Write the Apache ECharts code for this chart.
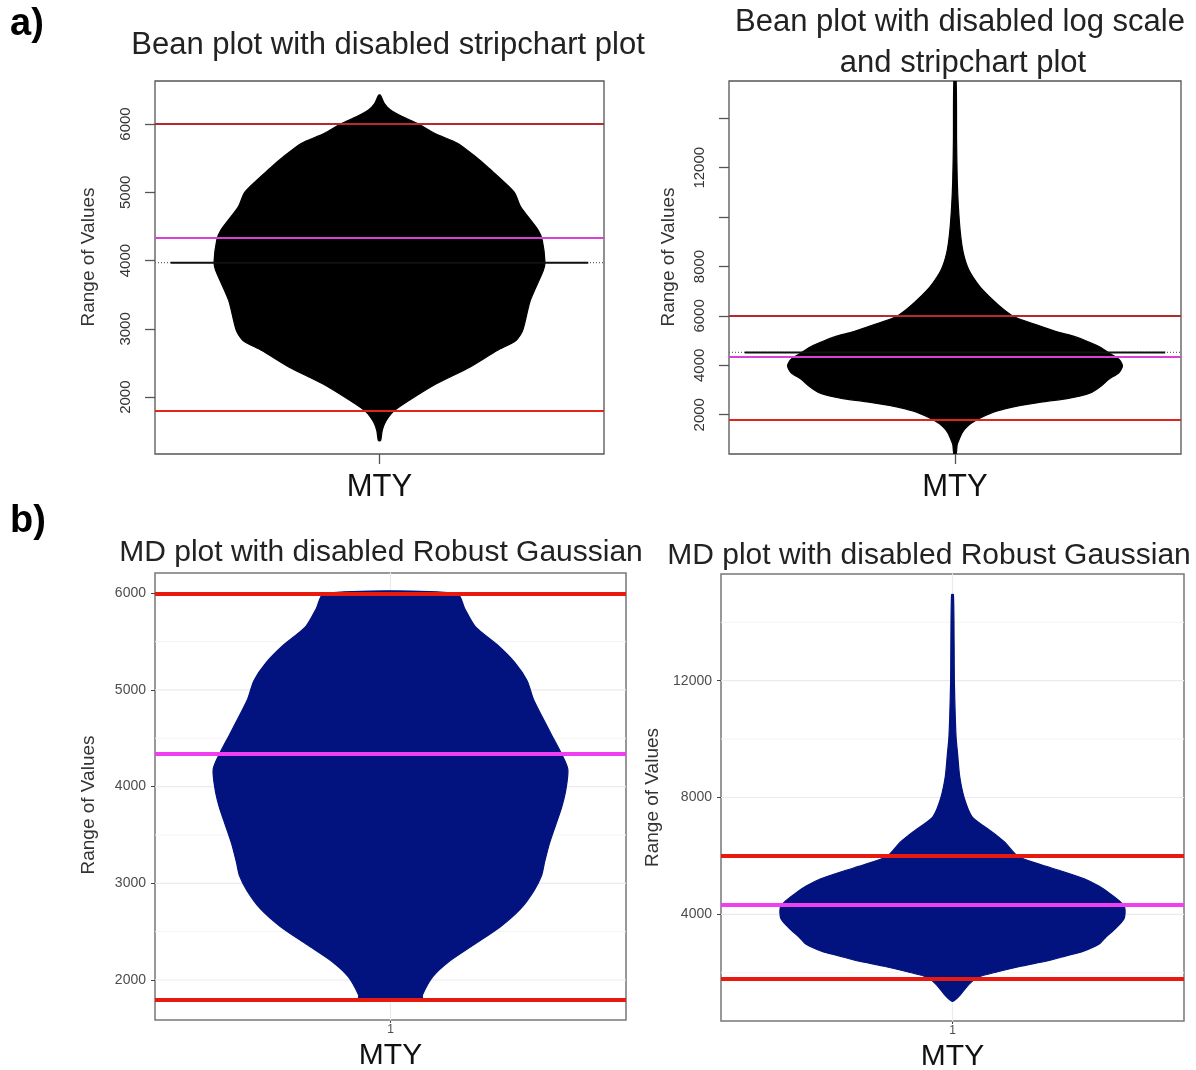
<!DOCTYPE html>
<html>
<head>
<meta charset="utf-8">
<script src="https://cdn.jsdelivr.net/npm/echarts@6/dist/echarts.min.js"></script>
<style>
html,body{margin:0;padding:0;background:#fff;}
#chart{width:1196px;height:1070px;}
</style>
</head>
<body>
<div id="chart"></div>
<script>
// ---------- data ----------
const xCategory = ['MTY'];
const xCategoryMD = ['1'];

// Panel a-left: bean plot (value, relative half width)
const aVals  = [6425,6303,6205,6108,6000,5863,5716,5520,5374,5007,4787,4445,4300,3980,3858,3418,2978,2831,2684,2440,2196,1951,1804,1707,1609,1511,1364];
const aWidth = [0.004,0.021,0.049,0.101,0.173,0.245,0.349,0.428,0.48,0.599,0.629,0.707,0.725,0.737,0.730,0.672,0.638,0.608,0.524,0.402,0.253,0.131,0.066,0.04,0.022,0.012,0.005];

// Panel a-right: bean plot without log scale
const bVals  = [15510,13100,11490,10418,9346,8540,7871,7200,6665,6300,5968,5660,5324,5190,4922,4720,4520,4250,3984,3700,3448,3150,2912,2750,2643,2509,2375,2240,2107,1839,1640,1437,1240,1035,800,410];
const bWidth = [0.005,0.007,0.01,0.015,0.024,0.037,0.061,0.109,0.165,0.21,0.261,0.354,0.463,0.52,0.598,0.645,0.678,0.725,0.741,0.725,0.682,0.645,0.606,0.55,0.49,0.38,0.29,0.22,0.17,0.105,0.07,0.045,0.03,0.02,0.01,0.005];

// Panel b-left: MD plot (trimmed)
const cVals  = [6000,5843,5656,5470,5283,5096,4910,4723,4535,4350,4180,3975,3788,3600,3413,3226,3077,2927,2740,2553,2366,2179,2030,1843,1800];
const cWidth = [0.282,0.315,0.36,0.452,0.528,0.58,0.606,0.644,0.684,0.724,0.753,0.745,0.727,0.701,0.675,0.655,0.641,0.61,0.554,0.468,0.355,0.242,0.178,0.135,0.135];

// Panel b-right: MD plot
const dVals  = [14947,13254,12000,10746,10000,9500,8727,7975,7348,6972,6721,6470,6000,5718,5467,5216,4966,4715,4464,4226,3850,3473,3222,2972,2721,2596,2408,2220,2032,1843,1592,1216,1028];
const dWidth = [0.004,0.007,0.008,0.012,0.016,0.022,0.031,0.051,0.084,0.144,0.187,0.226,0.281,0.374,0.476,0.569,0.632,0.679,0.72,0.744,0.741,0.699,0.663,0.632,0.56,0.499,0.413,0.296,0.195,0.109,0.07,0.031,0.005];

// reference lines
const refHigh = 6000;
const refLow = 1800;
const refMid = 4340;
const beanLineA = 3970;
const beanLineB = 4520;
const beanLineHalf = 0.93;

// tick values
const aTicks = [2000,3000,4000,5000,6000];
const bTicks = [2000,4000,6000,8000,10000,12000,14000];
const bLabels = [2000,4000,6000,8000,12000];
const cMajor = [2000,3000,4000,5000,6000];
const cMinor = [2500,3500,4500,5500];
const dMajor = [4000,8000,12000];
const dMinor = [2000,6000,10000,14000];

// ---------- chart ----------
const FONT = 'Liberation Sans, Arial, sans-serif';
const chart = echarts.init(document.getElementById('chart'), null, {renderer:'canvas'});

function mkGrid(l, t, w, h, col, bw){
  return {left:l, top:t, width:w, height:h, show:true, borderColor:col, borderWidth:bw,
          backgroundColor:'#fff', containLabel:false, outerBoundsMode:'none'};
}
const grids = [
  mkGrid(155, 81, 449, 373, '#555', 1.3),
  mkGrid(729, 81, 452, 373, '#555', 1.3),
  mkGrid(155, 573, 471, 447, '#777', 1.5),
  mkGrid(721, 574, 463, 447, '#777', 1.5)
];

const plainNum = function(v){ return String(v); };

function beanX(i){
  return {
    type:'value', gridIndex:i, min:-1, max:1,
    axisLine:{show:false, onZero:false}, splitLine:{show:false},
    axisTick:{show:true, customValues:[0], length:10, lineStyle:{color:'#555', width:1.3}},
    axisLabel:{customValues:[0], formatter:function(){return xCategory[0];}, fontSize:31, color:'#111', margin:18, fontFamily:FONT}
  };
}
function mdX(i){
  return {
    type:'value', gridIndex:i, min:-1, max:1,
    axisLine:{show:false, onZero:false}, splitLine:{show:false},
    axisTick:{show:true, customValues:[0], length:3, lineStyle:{color:'#444', width:1}},
    axisLabel:{customValues:[0], formatter:function(){return xCategoryMD[0];}, fontSize:12, color:'#4d4d4d', margin:4, fontFamily:FONT},
    name:xCategory[0], nameLocation:'middle', nameGap:21,
    nameTextStyle:{fontSize:30, color:'#111', fontFamily:FONT}
  };
}
function beanY(i, min, max, ticks, labels, gap){
  return {
    type:'value', gridIndex:i, min:min, max:max,
    axisLine:{show:false, onZero:false}, splitLine:{show:false},
    axisTick:{show:true, customValues:ticks, length:10, lineStyle:{color:'#555', width:1.3}},
    axisLabel:{customValues:labels, formatter:plainNum, rotate:90, fontSize:15, color:'#333', margin:22, fontFamily:FONT},
    name:'Range of Values', nameLocation:'middle', nameGap:gap,
    nameTextStyle:{fontSize:19, color:'#333', fontFamily:FONT, padding:[0,0,0,21]}
  };
}
function mdY(i, min, max, ticks, gap, pad){
  return {
    type:'value', gridIndex:i, min:min, max:max,
    axisLine:{show:false, onZero:false}, splitLine:{show:false},
    axisTick:{show:true, customValues:ticks, length:4, lineStyle:{color:'#444', width:1}},
    axisLabel:{customValues:ticks, formatter:plainNum, fontSize:14, color:'#4d4d4d', margin:9, fontFamily:FONT},
    name:'Range of Values', nameLocation:'middle', nameGap:gap,
    nameTextStyle:{fontSize:19, color:'#333', fontFamily:FONT, padding:pad}
  };
}

function shapeSeries(i, vals, widths, color){
  const data = vals.map(function(v, k){ return [widths[k], v]; });
  return {
    type:'custom', xAxisIndex:i, yAxisIndex:i, clip:true, z:3, silent:true,
    data:data,
    renderItem:function(params, api){
      if (params.dataIndex !== 0) return null;
      const pts = [];
      for (let k = 0; k < data.length; k++) pts.push(api.coord([-data[k][0], data[k][1]]));
      for (let k = data.length - 1; k >= 0; k--) pts.push(api.coord([data[k][0], data[k][1]]));
      return {type:'polygon', shape:{points:pts, smooth:0.25}, style:{fill:color, stroke:color, lineWidth:1.2}};
    }
  };
}

function refSeries(i, lines, width){
  return {
    type:'line', xAxisIndex:i, yAxisIndex:i, data:[], z:5, silent:true,
    markLine:{
      silent:true, symbol:'none', label:{show:false},
      data:lines.map(function(l){ return {yAxis:l.v, lineStyle:{color:l.c, width:width, type:'solid'}}; })
    }
  };
}

function gridLines(i, major, minor){
  const out = [];
  out.push({type:'line', xAxisIndex:i, yAxisIndex:i, z:1, silent:true, symbol:'none',
            data:[[0, -1e6],[0, 1e6]], clip:true, lineStyle:{color:'#ebebeb', width:1.2}});
  major.forEach(function(v){
    out.push({type:'line', xAxisIndex:i, yAxisIndex:i, z:1, silent:true, symbol:'none',
              data:[[-1, v],[1, v]], lineStyle:{color:'#ebebeb', width:1.2}});
  });
  minor.forEach(function(v){
    out.push({type:'line', xAxisIndex:i, yAxisIndex:i, z:1, silent:true, symbol:'none',
              data:[[-1, v],[1, v]], lineStyle:{color:'#f4f4f4', width:1}});
  });
  return out;
}

function beanLine(i, v){
  return [
    {type:'line', xAxisIndex:i, yAxisIndex:i, z:2, silent:true, symbol:'none',
     data:[[-1, v],[1, v]], lineStyle:{color:'#666', width:1.3, type:[1,2]}},
    {type:'line', xAxisIndex:i, yAxisIndex:i, z:4, silent:true, symbol:'none',
     data:[[-beanLineHalf, v],[beanLineHalf, v]], lineStyle:{color:'#111', width:2}}
  ];
}

const darkRed = '#b52a2a';
const red = '#e3241b';
const magentaA = '#d840d8';
const redMD = '#e8190f';
const magentaMD = '#f03ff0';
const navy = '#02137f';

const option = {
  backgroundColor:'#ffffff',
  animation:false,
  grid:grids,
  xAxis:[beanX(0), beanX(1), mdX(2), mdX(3)],
  yAxis:[
    beanY(0, 1168, 6630, aTicks, aTicks, 57),
    beanY(1, 410, 15510, bTicks, bLabels, 51),
    mdY(2, 1586, 6210, cMajor, 57, [0,17,0,0]),
    mdY(3, 346, 15654, dMajor, 59, [0,0,0,0])
  ],
  series:[
    ...beanLine(0, beanLineA),
    shapeSeries(0, aVals, aWidth, '#000000'),
    refSeries(0, [{v:refHigh, c:darkRed},{v:refLow, c:red},{v:refMid, c:magentaA}], 2),

    ...beanLine(1, beanLineB),
    shapeSeries(1, bVals, bWidth, '#000000'),
    refSeries(1, [{v:refHigh, c:darkRed},{v:refLow, c:red},{v:refMid, c:magentaA}], 2),

    ...gridLines(2, cMajor, cMinor),
    shapeSeries(2, cVals, cWidth, navy),
    refSeries(2, [{v:refHigh, c:redMD},{v:refLow, c:redMD},{v:refMid, c:magentaMD}], 4),

    ...gridLines(3, dMajor, dMinor),
    shapeSeries(3, dVals, dWidth, navy),
    refSeries(3, [{v:refHigh, c:redMD},{v:refLow, c:redMD},{v:refMid, c:magentaMD}], 4)
  ],
  graphic:[
    {type:'text', left:10, top:6, style:{text:'a)', font:'bold 38px ' + FONT, fill:'#000'}},
    {type:'text', left:10, top:503, style:{text:'b)', font:'bold 38px ' + FONT, fill:'#000'}},
    {type:'text', x:388, y:45, style:{text:'Bean plot with disabled stripchart plot', font:'31px ' + FONT, fill:'#222', align:'center', verticalAlign:'middle'}},
    {type:'text', x:960, y:22, style:{text:'Bean plot with disabled log scale', font:'31px ' + FONT, fill:'#222', align:'center', verticalAlign:'middle'}},
    {type:'text', x:963, y:63, style:{text:'and stripchart plot', font:'31px ' + FONT, fill:'#222', align:'center', verticalAlign:'middle'}},
    {type:'text', x:381, y:553, style:{text:'MD plot with disabled Robust Gaussian', font:'30px ' + FONT, fill:'#222', align:'center', verticalAlign:'middle'}},
    {type:'text', x:929, y:556, style:{text:'MD plot with disabled Robust Gaussian', font:'30px ' + FONT, fill:'#222', align:'center', verticalAlign:'middle'}}
  ]
};
chart.setOption(option);
</script>
</body>
</html>
